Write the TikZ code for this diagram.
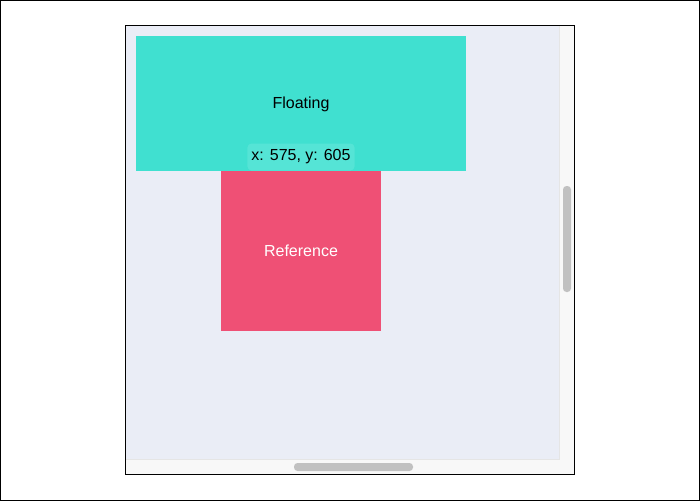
\documentclass[tikz,border=0pt]{standalone}
\usepackage{fontspec}
\setmainfont{Liberation Sans}
\definecolor{teal1}{HTML}{40E0D0}
\definecolor{teallab}{HTML}{55E4D6}
\definecolor{pinkref}{HTML}{EF5075}
\definecolor{panelbg}{HTML}{EAEDF6}
\definecolor{scrollbg}{HTML}{F8F8F8}
\definecolor{thumb}{HTML}{C1C1C1}
\tikzset{
  box/.style={draw=none, inner sep=0pt, anchor=north west},
  lbl/.style={font=\fontsize{16}{19}\selectfont},
}
\begin{document}
\begin{tikzpicture}[x=1pt,y=-1pt]
\useasboundingbox (0,0) rectangle (700,501);
\fill[white] (0,0) rectangle (700,501);
\draw[black, line width=1pt] (0.5,0.5) rectangle (699.5,500.5);
% frame
\fill[scrollbg] (125,25) rectangle (575,474);
\fill[panelbg] (126,26) rectangle (559,459);
\draw[black!10, line width=0.6pt] (559,26) -- (559,459) -- (126,459);
\draw[black, line width=1pt] (125.5,25.5) rectangle (574.5,474.5);
% scrollbars
\fill[thumb, rounded corners=3.5pt] (563,186) rectangle (571,292);
\fill[thumb, rounded corners=3.5pt] (294,463) rectangle (413,471);
% boxes
\node[box, fill=teal1, minimum width=330pt, minimum height=135pt] (floating) at (136,36) {};
\node[lbl] at (301,104) {Floating};
\node[box, fill=pinkref, minimum width=160pt, minimum height=160pt] (reference) at (221,171) {};
\node[lbl, text=white] at (301,251) {Reference};
\node[lbl, fill=teallab, rounded corners=4pt, inner xsep=4pt, inner ysep=0pt, minimum height=27pt] (coords) at (301,157) {x: 575, y: 605};
\end{tikzpicture}
\end{document}
